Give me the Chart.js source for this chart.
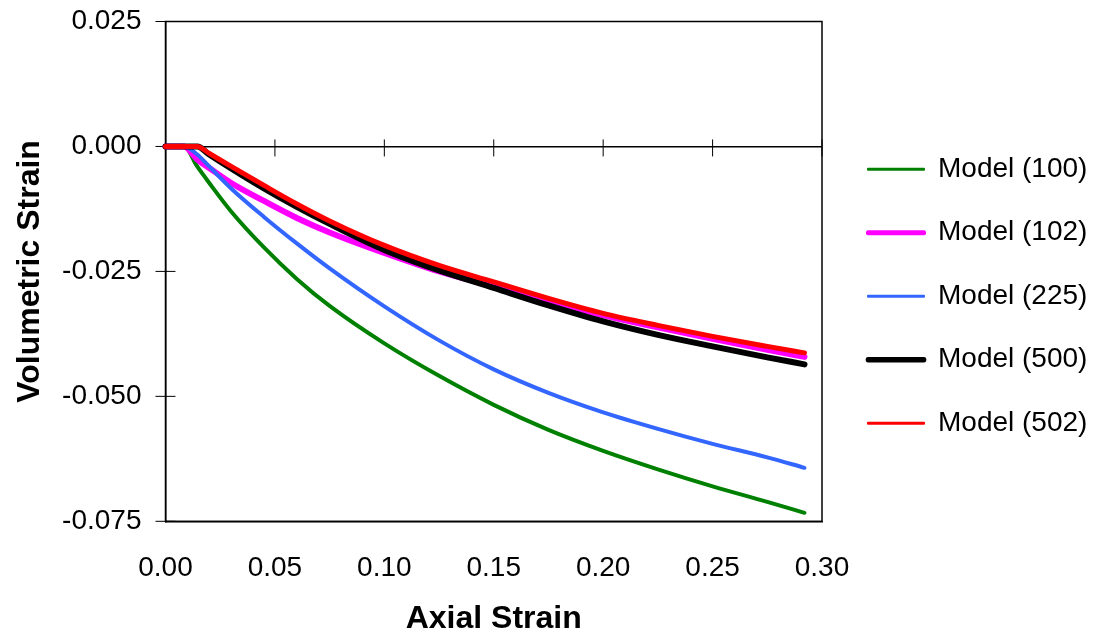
<!DOCTYPE html>
<html>
<head>
<meta charset="utf-8">
<script src="https://cdn.jsdelivr.net/npm/chart.js@4.4.1/dist/chart.umd.min.js"></script>
<style>
  body { margin: 0; background: #fff; }
  canvas { display: block; }
</style>
</head>
<body>
<canvas id="strainChart" width="1097" height="639"></canvas>
<script>
// axial strain values shared by every model curve
const axialStrain = [0, 0.005, 0.0085, 0.0145, 0.02, 0.03, 0.045, 0.06, 0.075, 0.1, 0.125, 0.15, 0.175, 0.2, 0.225, 0.25, 0.275, 0.292];

// volumetric strain
const model100 = [0, 0, 0, -0.0040, -0.0073, -0.0130, -0.0202, -0.0265, -0.0319, -0.0394, -0.0459, -0.0517, -0.0567, -0.0609, -0.0646, -0.0680, -0.0711, -0.0733];
const model102 = [0, 0, 0, -0.0026, -0.0043, -0.0073, -0.0109, -0.0143, -0.0172, -0.0213, -0.0250, -0.0280, -0.0310, -0.0338, -0.0362, -0.0385, -0.0407, -0.0421];
const model225 = [0, 0, 0, -0.0016, -0.0040, -0.0084, -0.0141, -0.0194, -0.0244, -0.0320, -0.0388, -0.0446, -0.0493, -0.0532, -0.0565, -0.0595, -0.0622, -0.0643];
const model500 = [0, 0, 0, 0, -0.0016, -0.0044, -0.0084, -0.0121, -0.0155, -0.0207, -0.0248, -0.0283, -0.0318, -0.0350, -0.0377, -0.0400, -0.0422, -0.0436];
const model502 = [0, 0, 0, 0, -0.0014, -0.0040, -0.0078, -0.0115, -0.0149, -0.0198, -0.0238, -0.0271, -0.0304, -0.0334, -0.0358, -0.0380, -0.0400, -0.0413];

const seriesNames = ['Model (100)', 'Model (102)', 'Model (225)', 'Model (500)', 'Model (502)'];
const seriesValues = [model100, model102, model225, model500, model502];

const xTicks = [0, 0.05, 0.10, 0.15, 0.20, 0.25, 0.30];
const yTicks = [0.025, 0, -0.025, -0.050, -0.075];

const colors = ['#008000', '#ff00ff', '#3366ff', '#000000', '#ff0000'];
const lineWidths = [4, 6, 4, 6, 5];
const legendWidths = [2, 4, 2, 4.5, 2];
const drawOrder = [4, 3, 2, 1, 0];

Chart.defaults.font.family = '"Liberation Sans", Arial, sans-serif';
Chart.defaults.color = '#000';

// frame round the plot area, the little cross ticks, and a nudge for the legend
const frameTicks = {
    id: 'frameTicks',
    afterLayout(chart) {
        // keep a gap between plot and legend like the original
        chart.legend.left += 10.5;
        chart.legend.right += 10.5;
    },
    beforeDatasetsDraw(chart) {
        const {ctx, chartArea: a, scales: {x, y}} = chart;
        const y0 = y.getPixelForValue(0);
        ctx.save();
        ctx.strokeStyle = '#000';
        ctx.lineWidth = 1.5;
        ctx.strokeRect(a.left, a.top, a.right - a.left, a.bottom - a.top);
        ctx.lineWidth = 1;
        ctx.beginPath();
        xTicks.forEach(v => {
            const px = x.getPixelForValue(v);
            ctx.moveTo(px, y0 - 7);
            ctx.lineTo(px, y0 + 10);
        });
        yTicks.forEach(v => {
            const py = y.getPixelForValue(v);
            ctx.moveTo(a.left - 10, py);
            ctx.lineTo(a.left + 10, py);
        });
        ctx.stroke();
        ctx.restore();
    }
};

const datasets = seriesNames.map((name, i) => ({
    label: name,
    data: axialStrain.map((xv, j) => ({x: xv, y: seriesValues[i][j]})),
    borderColor: colors[i],
    backgroundColor: colors[i],
    borderWidth: lineWidths[i],
    borderCapStyle: 'round',
    borderJoinStyle: 'round',
    pointRadius: 0,
    cubicInterpolationMode: 'monotone',
    clip: false,
    order: drawOrder[i]
}));

new Chart(document.getElementById('strainChart'), {
    type: 'line',
    data: { datasets: datasets },
    options: {
        responsive: false,
        animation: false,
        layout: { padding: { top: 21.5, left: 0, right: 0, bottom: 0 } },
        scales: {
            x: {
                type: 'linear',
                min: 0,
                max: 0.3,
                afterBuildTicks: s => { s.ticks = xTicks.map(v => ({value: v})); },
                afterFit: s => { s.paddingRight = 275; },
                ticks: {
                    font: { size: 28 },
                    padding: 0,
                    callback: v => v.toFixed(2)
                },
                grid: { display: false, drawTicks: true, tickLength: 29.7 },
                border: { display: true, color: '#000', width: 1.5 },
                title: {
                    display: true,
                    text: 'Axial Strain',
                    font: { size: 32, weight: 'bold' },
                    padding: { top: 15, bottom: 1 }
                }
            },
            y: {
                type: 'linear',
                min: -0.075,
                max: 0.025,
                afterBuildTicks: s => { s.ticks = yTicks.map(v => ({value: v})); },
                ticks: {
                    font: { size: 28 },
                    padding: 0,
                    callback: v => v.toFixed(3)
                },
                grid: {
                    color: c => (c.tick && Math.abs(c.tick.value) < 1e-9) ? '#000' : 'rgba(0,0,0,0)',
                    lineWidth: 1.5,
                    tickColor: 'rgba(0,0,0,0)',
                    tickLength: 24
                },
                border: { display: true, color: '#000', width: 1.5 },
                title: {
                    display: true,
                    text: 'Volumetric Strain',
                    font: { size: 32, weight: 'bold' },
                    padding: { top: 10.8, bottom: 12.9 }
                }
            }
        },
        plugins: {
            tooltip: { enabled: false },
            legend: {
                position: 'right',
                fullSize: false,
                align: 'center',
                title: {
                    display: true,
                    text: '',
                    font: { size: 10, lineHeight: 1 },
                    padding: { top: 39.6, bottom: 0 }
                },
                labels: {
                    font: { size: 28 },
                    boxWidth: 56,
                    boxHeight: 1,
                    padding: 35.5,
                    color: '#000',
                    sort: (a, b) => a.datasetIndex - b.datasetIndex,
                    generateLabels(chart) {
                        const items = Chart.defaults.plugins.legend.labels.generateLabels(chart);
                        items.forEach(it => {
                            it.lineWidth = legendWidths[it.datasetIndex];
                            it.fillStyle = colors[it.datasetIndex];
                            it.strokeStyle = colors[it.datasetIndex];
                            it.lineJoin = 'round';
                        });
                        return items;
                    }
                }
            }
        }
    },
    plugins: [frameTicks]
});
</script>
</body>
</html>
